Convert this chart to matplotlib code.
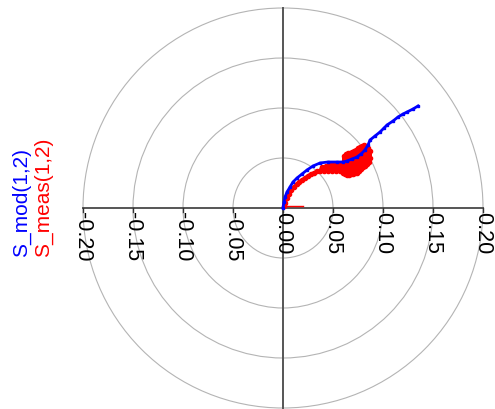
import numpy as np
import matplotlib.pyplot as plt
from matplotlib.patches import Circle

plt.rcParams['font.family'] = ['Liberation Sans', 'DejaVu Sans']

# polar grid
radii = [0.05, 0.10, 0.15, 0.20]
tick_vals = [-0.20, -0.15, -0.10, -0.05, 0.00, 0.05, 0.10, 0.15, 0.20]
tick_labels = ['-0.20', '-0.15', '-0.10', '-0.05', '0.00', '0.05', '0.10', '0.15', '0.20']

# S_mod(1,2): real / imag
mod_re = [0.000, 0.001, 0.002, 0.004, 0.007, 0.010, 0.014, 0.019, 0.024, 0.030, 0.037,
          0.045, 0.054, 0.060, 0.064, 0.069, 0.074, 0.078, 0.082, 0.085, 0.087, 0.092,
          0.097, 0.101, 0.104, 0.110, 0.115, 0.120, 0.124, 0.130, 0.135]
mod_im = [0.000, 0.006, 0.011, 0.016, 0.021, 0.026, 0.030, 0.034, 0.038, 0.042, 0.045,
          0.046, 0.046, 0.046, 0.047, 0.049, 0.051, 0.054, 0.058, 0.063, 0.068, 0.072,
          0.076, 0.080, 0.083, 0.087, 0.091, 0.094, 0.096, 0.099, 0.102]

# S_meas(1,2): real / imag (first points are the low-frequency stub)
meas_re = [0.020, 0.015, 0.010, 0.005, 0.001, 0.002, 0.004, 0.006, 0.008, 0.011, 0.014,
           0.016, 0.019, 0.022, 0.025, 0.028, 0.031, 0.034, 0.037, 0.039, 0.041, 0.043,
           0.045, 0.047, 0.049, 0.051, 0.053, 0.055, 0.057, 0.059, 0.060, 0.061, 0.062,
           0.063, 0.064, 0.065, 0.066, 0.067, 0.068, 0.069, 0.070, 0.071, 0.072, 0.073,
           0.074, 0.075, 0.076, 0.077, 0.078, 0.079, 0.080, 0.081, 0.082, 0.083, 0.084,
           0.085, 0.086, 0.087, 0.087]
meas_im = [0.002, 0.002, 0.002, 0.002, 0.002, 0.005, 0.010, 0.014, 0.018, 0.021, 0.024,
           0.026, 0.028, 0.030, 0.032, 0.034, 0.035, 0.037, 0.037, 0.041, 0.037, 0.042,
           0.037, 0.043, 0.037, 0.044, 0.037, 0.044, 0.037, 0.045, 0.035, 0.052, 0.034,
           0.054, 0.033, 0.055, 0.033, 0.055, 0.034, 0.056, 0.034, 0.057, 0.035, 0.058,
           0.035, 0.060, 0.037, 0.061, 0.039, 0.062, 0.041, 0.063, 0.042, 0.062, 0.044,
           0.060, 0.046, 0.057, 0.050]

fig = plt.figure(figsize=(4.95, 4.09), dpi=100)
ax = fig.add_axes([0, 0, 1, 1])
ax.set_xlim(-0.283, 0.212)
ax.set_ylim(-0.201, 0.208)
ax.set_aspect('equal')
ax.axis('off')

for r in radii:
    ax.add_patch(Circle((0, 0), r, fill=False, color='#b4b4b4', lw=0.8, zorder=1))

ax.plot([-0.2, 0.2], [0, 0], color='#555555', lw=1.4, zorder=2)
ax.plot([0, 0], [-0.2, 0.2], color='#555555', lw=1.4, zorder=2)

for v, lab in zip(tick_vals, tick_labels):
    ax.plot([v, v], [0, -0.004], color='#333333', lw=1, zorder=2)
    ax.text(v, -0.004, lab, rotation=-90, ha='center', va='top', fontsize=15.5)

ax.plot(meas_re[:5], meas_im[:5], color='red', lw=1, zorder=3)
ax.plot(meas_re[4:], meas_im[4:], color='red', lw=2.5, marker='o', ms=3, zorder=3)
ax.plot(mod_re, mod_im, color='blue', lw=2, marker='s', ms=1.8, zorder=4)

fig.text(0.044, 0.372, 'S_mod(1,2)', color='blue', rotation=90, ha='center', va='bottom', fontsize=15)
fig.text(0.087, 0.372, 'S_meas(1,2)', color='red', rotation=90, ha='center', va='bottom', fontsize=15)

fig.savefig('out.png', dpi=100)
